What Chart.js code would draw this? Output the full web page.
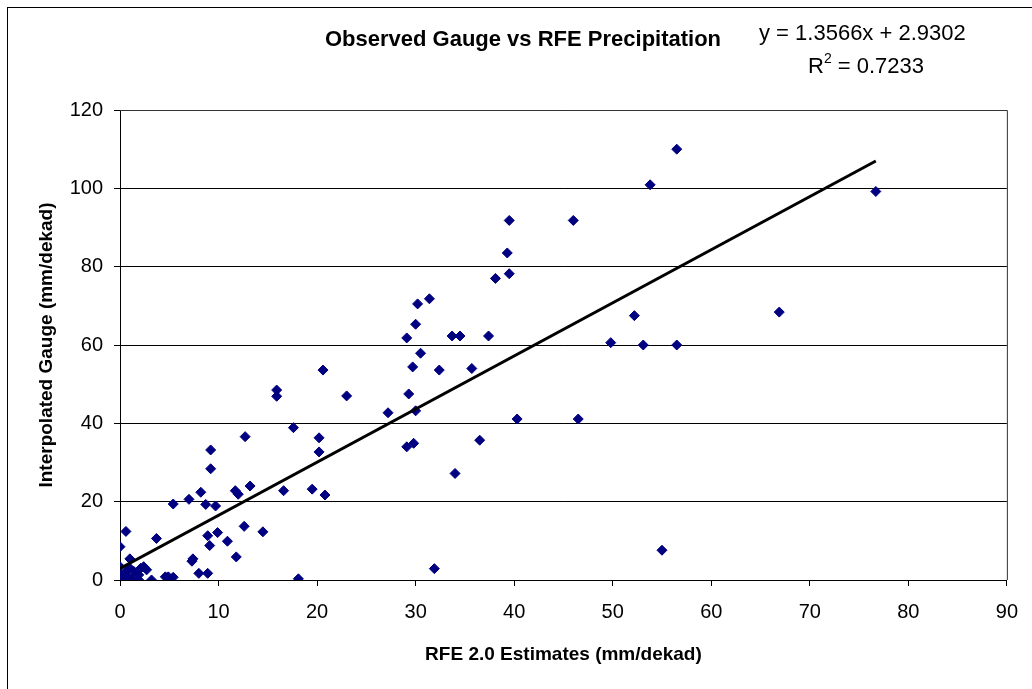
<!DOCTYPE html>
<html>
<head>
<meta charset="utf-8">
<title>Observed Gauge vs RFE Precipitation</title>
<script src="https://cdn.jsdelivr.net/npm/chart.js@4.4.1/dist/chart.umd.min.js"></script>
<style>
	html, body { margin: 0; padding: 0; background: #fff; }
	#wrap { width: 1032px; height: 689px; }
</style>
</head>
<body>
<div id="wrap"><canvas id="chart" width="1032" height="689"></canvas></div>
<script>
// RFE 2.0 estimate (x) and interpolated gauge (y), mm/dekad
const rfe = [
	56.5, 53.8, 76.7, 39.5, 46.0, 39.3, 39.5, 38.1, 31.4, 30.2,
	66.9, 52.2, 30.0, 33.7, 34.5, 37.4, 29.1, 49.8, 53.1, 56.5,
	30.5, 29.7, 35.7, 32.4, 20.6, 15.9, 15.9, 23.0, 29.3, 30.0,
	27.2, 40.3, 46.5, 17.6, 12.7, 20.2, 36.5, 29.8, 29.1, 9.2,
	20.2, 9.2, 34.0, 13.2, 19.5, 16.6, 11.7, 8.2, 12.0, 20.8,
	7.0, 5.4, 8.7, 9.7, 14.5, 12.6, 0.6, 9.9, 8.9, 3.7,
	10.9, 9.1, 0.0, 11.8, 7.4, 7.3, 1.0, 31.9, 55.0, 18.1,
	8.0, 8.9, 5.4, 4.9, 0.0, 0.1, 0.2, 1.0, 1.2, 1.9,
	1.9, 2.4, 2.7, 3.2, 0.5, 0.6, 1.4, 2.1, 0.8, 4.6
];
const gauge = [
	110.0, 100.9, 99.2, 91.8, 91.8, 83.5, 78.2, 77.0, 71.8, 70.5,
	68.4, 67.5, 65.3, 62.3, 62.3, 62.3, 61.8, 60.6, 60.0, 60.0,
	57.9, 54.4, 54.0, 53.6, 53.6, 48.5, 46.9, 47.0, 47.5, 43.2,
	42.7, 41.1, 41.1, 38.9, 36.6, 36.3, 35.7, 34.9, 34.0, 33.2,
	32.7, 28.4, 27.2, 24.0, 23.2, 22.8, 22.8, 22.4, 21.9, 21.7,
	20.6, 19.4, 19.3, 18.9, 12.3, 13.7, 12.4, 12.1, 11.3, 10.6,
	9.9, 8.8, 8.5, 5.9, 5.4, 4.8, 5.4, 2.9, 7.6, 0.3,
	1.7, 1.7, 0.7, 0.8, 3.4, 1.3, 0.0, 3.0, 0.4, 1.3,
	0.0, 3.4, 2.6, 0.0, 0.0, 2.0, 2.2, 3.0, 0.8, 0.8
];
const xTicks = [0, 10, 20, 30, 40, 50, 60, 70, 80, 90];
const yTicks = [0, 20, 40, 60, 80, 100, 120];
// linear trendline as printed on the chart
const slope = 1.3566, intercept = 2.9302, rSquared = 0.7233;

const FONT = "'Liberation Sans', Arial, sans-serif";

let points = rfe.map(function(v, i) { return { x: v, y: gauge[i] }; });
let xMax = Math.max.apply(null, rfe);
let trend = [
	{ x: 0, y: intercept },
	{ x: xMax, y: slope * xMax + intercept }
];

// frames + heading texts
const decor = {
	id: 'decor',
	beforeDraw: function(chart) {
		let ctx = chart.ctx;
		ctx.save();
		ctx.fillStyle = '#fff';
		ctx.fillRect(0, 0, chart.width, chart.height);
		ctx.restore();
	},
	afterDraw: function(chart) {
		let ctx = chart.ctx, a = chart.chartArea;
		ctx.save();
		ctx.strokeStyle = '#000';
		ctx.lineWidth = 1;
		ctx.strokeRect(7.5, 7.5, 1040, 700);
		ctx.strokeStyle = '#333';
		ctx.beginPath();
		ctx.moveTo(a.left, a.top + 0.5);
		ctx.lineTo(a.right + 0.5, a.top + 0.5);
		ctx.lineTo(a.right + 0.5, a.bottom);
		ctx.stroke();

		ctx.fillStyle = '#000';
		ctx.textBaseline = 'middle';
		ctx.font = 'bold 22px ' + FONT;
		ctx.textAlign = 'center';
		ctx.fillText('Observed Gauge vs RFE Precipitation', 523, 40);

		ctx.font = '22px ' + FONT;
		ctx.textAlign = 'left';
		ctx.fillText('y = ' + slope + 'x + ' + intercept, 759, 34);
		let x0 = 808;
		ctx.fillText('R', x0, 67);
		let w = ctx.measureText('R').width;
		ctx.font = '14px ' + FONT;
		ctx.fillText('2', x0 + w, 59);
		let w2 = ctx.measureText('2').width;
		ctx.font = '22px ' + FONT;
		ctx.fillText(' = ' + rSquared, x0 + w + w2, 67);
		ctx.restore();
	}
};

let chart = new Chart(document.getElementById('chart'), {
	type: 'scatter',
	plugins: [decor],
	data: {
		datasets: [{
			type: 'line',
			label: 'Linear trend',
			data: trend,
			borderColor: '#000',
			borderWidth: 3,
			pointRadius: 0,
			fill: false,
			order: 0
		}, {
			label: 'Gauge vs RFE',
			data: points,
			pointStyle: 'rectRot',
			pointRadius: 5,
			pointBackgroundColor: '#000080',
			pointBorderColor: '#000080',
			pointBorderWidth: 1,
			order: 1
		}]
	},
	options: {
		responsive: false,
		animation: false,
		layout: { padding: { left: 0, right: 24, top: 110, bottom: 9 } },
		plugins: {
			legend: { display: false },
			tooltip: { enabled: false },
			title: { display: false }
		},
		scales: {
			x: {
				type: 'linear',
				min: 0,
				max: 90,
				afterFit: function(s) { s.height = 100; },
				afterBuildTicks: function(s) { s.ticks = xTicks.map(function(v) { return { value: v }; }); },
				ticks: { color: '#000', font: { family: FONT, size: 20 }, padding: 14 },
				grid: { drawOnChartArea: false, color: '#000', tickColor: '#000', tickLength: 6 },
				border: { color: '#000', width: 1 },
				title: {
					display: true,
					text: 'RFE 2.0 Estimates (mm/dekad)',
					color: '#000',
					font: { family: FONT, size: 19, weight: 'bold' },
					padding: { top: 0, bottom: 14 }
				}
			},
			y: {
				type: 'linear',
				min: 0,
				max: 120,
				afterFit: function(s) { s.width = 120; },
				afterBuildTicks: function(s) { s.ticks = yTicks.map(function(v) { return { value: v }; }); },
				ticks: { color: '#000', font: { family: FONT, size: 20 }, padding: 11 },
				grid: { color: '#000', tickColor: '#000', tickLength: 6, lineWidth: 1 },
				border: { color: '#000', width: 1 },
				title: {
					display: true,
					text: 'Interpolated Gauge (mm/dekad)',
					color: '#000',
					font: { family: FONT, size: 19, weight: 'bold' },
					padding: { top: 35, bottom: 0 }
				}
			}
		}
	}
});
</script>
</body>
</html>
